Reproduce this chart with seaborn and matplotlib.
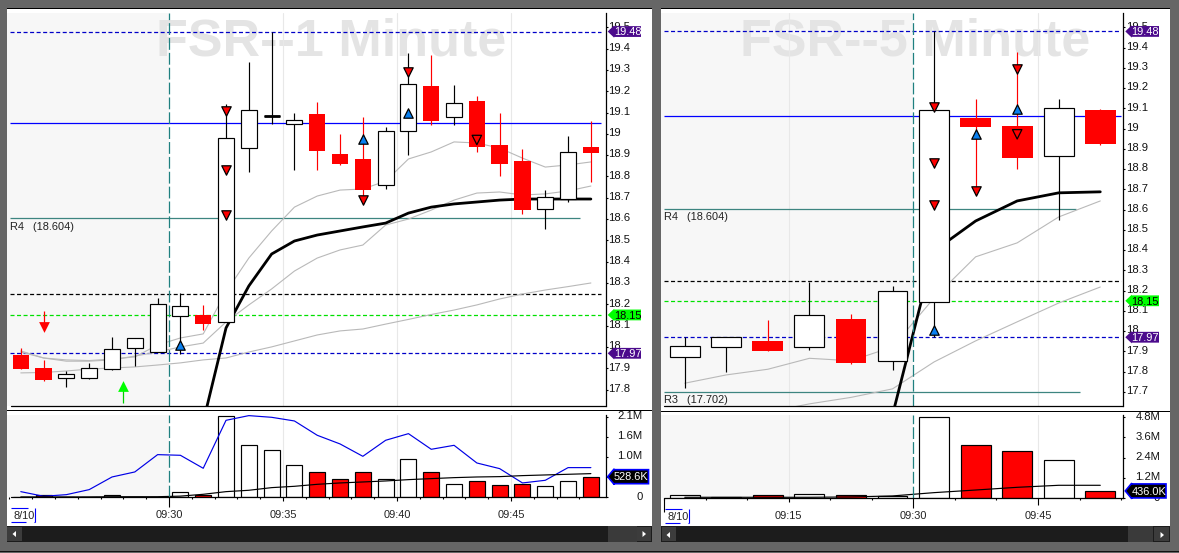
import numpy as np
import pandas as pd
import matplotlib
matplotlib.use("Agg")
import matplotlib.pyplot as plt
from matplotlib.patches import Polygon, Rectangle
from matplotlib.lines import Line2D
from matplotlib.transforms import ScaledTranslation
import seaborn as sns

# ---------- 1 minute chart ----------
m1_minutes = [-6.5, -5.5, -4.5, -3.5, -2.5, -1.5, -0.5, 0.5, 1.5, 2.5, 3.5, 4.5, 5.5, 6.5, 7.5, 8.5, 9.5,
              10.5, 11.5, 12.5, 13.5, 14.5, 15.5, 16.5, 17.5, 18.5]
m1_open = [17.962, 17.901, 17.855, 17.855, 17.898, 17.996, 17.978, 18.146, 18.15, 18.118, 18.932, 19.085, 19.047,
           19.093, 18.905, 18.882, 18.758, 19.012, 19.224, 19.08, 19.154, 18.947, 18.872, 18.649, 18.693, 18.938]
m1_close = [17.896, 17.845, 17.871, 17.9, 17.989, 18.04, 18.2, 18.19, 18.107, 18.979, 19.11, 19.085, 19.063,
            18.919, 18.858, 18.736, 19.012, 19.232, 19.062, 19.143, 18.94, 18.86, 18.644, 18.702, 18.913, 18.911]
m1_high = [17.993, 17.939, 17.887, 17.923, 18.045, 18.04, 18.228, 18.252, 18.197, 19.14, 19.337, 19.48, 19.096,
           19.149, 19.0, 19.079, 19.032, 19.379, 19.37, 19.229, 19.177, 19.096, 18.929, 18.736, 18.99, 19.058]
m1_low = [17.896, 17.84, 17.813, 17.851, 17.892, 17.91, 17.978, 17.967, 18.079, 18.118, 18.821, 19.047, 18.83,
          18.83, 18.853, 18.67, 18.741, 18.9, 19.041, 19.041, 18.916, 18.803, 18.625, 18.555, 18.681, 18.775]
m1_band_a = [17.981, 17.948, 17.939, 17.936, 17.943, 17.953, 18.009, 18.042, 18.061, 18.258, 18.417, 18.544, 18.656,
             18.708, 18.736, 18.741, 18.778, 18.882, 18.915, 18.962, 18.957, 18.933, 18.886, 18.844, 18.854, 18.868]
m1_band_b = [17.976, 17.948, 17.933, 17.933, 17.939, 17.957, 17.976, 18.0, 18.018, 18.117, 18.197, 18.272, 18.356,
             18.417, 18.455, 18.478, 18.572, 18.6, 18.642, 18.689, 18.722, 18.727, 18.713, 18.718, 18.732, 18.755]
m1_band_c = [17.878, 17.88, 17.887, 17.896, 17.901, 17.906, 17.915, 17.925, 17.939, 17.948, 17.976, 18.0, 18.028,
             18.056, 18.075, 18.084, 18.107, 18.129, 18.152, 18.173, 18.197, 18.225, 18.248, 18.267, 18.283, 18.3]
m1_ema_minutes = m1_minutes[8:]
m1_ema = [17.648, 18.089, 18.286, 18.436, 18.497, 18.525, 18.544, 18.563, 18.581, 18.628, 18.656, 18.671, 18.68,
          18.689, 18.694, 18.694, 18.694, 18.694]
m1_volume = [0.02, 0.05, 0.02, 0.01, 0.05, 0.02, 0.02, 0.146, 0.07, 2.09, 1.35, 1.22, 0.84, 0.66, 0.48, 0.66, 0.48,
             0.99, 0.66, 0.35, 0.43, 0.325, 0.35, 0.30, 0.43, 0.53]
m1_vol_fast = [0.145, 0.026, 0.068, 0.197, 0.521, 0.65, 1.094, 1.077, 0.744, 1.974, 2.094, 2.051, 1.957, 1.59, 1.368,
               1.051, 1.462, 1.632, 1.231, 1.333, 0.88, 0.735, 0.368, 0.436, 0.761, 0.761]
m1_vol_slow = [0.01, 0.01, 0.01, 0.01, 0.015, 0.015, 0.015, 0.03, 0.077, 0.145, 0.18, 0.248, 0.282, 0.333, 0.368,
               0.393, 0.419, 0.453, 0.479, 0.504, 0.521, 0.53, 0.556, 0.573, 0.59, 0.607]
m1_sell_x = [2.5, 2.5, 2.5, 8.5, 10.5]
m1_sell_y = [19.108, 18.83, 18.619, 18.689, 19.291]
m1_buy_x = [0.5, 8.5, 10.5]
m1_buy_y = [18.009, 18.976, 19.099]
m1_hollow_x = [13.5]
m1_hollow_y = [18.971]
m1_price_ticks = [17.8, 17.9, 18.0, 18.1, 18.2, 18.3, 18.4, 18.5, 18.6, 18.7, 18.8, 18.9, 19.0, 19.1, 19.2, 19.3, 19.4, 19.5]
m1_price_labels = ["17.8", "17.9", "18", "18.1", "18.2", "18.3", "18.4", "18.5", "18.6", "18.7", "18.8", "18.9", "19",
                   "19.1", "19.2", "19.3", "19.4", "19.5"]
m1_vol_ticks = [0, 0.517, 1.03, 1.55, 2.07]
m1_vol_labels = ["0", "", "1.0M", "1.6M", "2.1M"]
m1_time_ticks = [0, 5, 10, 15]
m1_time_labels = ["09:30", "09:35", "09:40", "09:45"]

# ---------- 5 minute chart ----------
m5_minutes = [-27.5, -22.5, -17.5, -12.5, -7.5, -2.5, 2.5, 7.5, 12.5, 17.5, 22.5]
m5_open = [17.874, 17.924, 17.952, 17.924, 18.06, 17.854, 18.146, 19.053, 19.013, 18.867, 19.092]
m5_close = [17.926, 17.97, 17.904, 18.079, 17.845, 18.197, 19.091, 19.008, 18.855, 19.101, 18.925]
m5_high = [17.97, 17.97, 18.055, 18.245, 18.085, 18.223, 19.48, 19.147, 19.377, 19.147, 19.097]
m5_low = [17.721, 17.8, 17.904, 17.909, 17.84, 17.808, 17.973, 18.673, 18.801, 18.549, 18.92]
m5_band_a = [17.743, 17.784, 17.812, 17.866, 17.854, 17.922, 18.164, 18.367, 18.436, 18.564, 18.643]
m5_band_b_minutes = m5_minutes[2:]
m5_band_b = [17.601, 17.641, 17.673, 17.715, 17.848, 17.952, 18.046, 18.139, 18.218]
m5_ema_minutes = m5_minutes[5:]
m5_ema = [17.586, 18.396, 18.544, 18.643, 18.683, 18.688]
m5_volume = [0.18, 0.1, 0.2, 0.24, 0.18, 0.12, 4.83, 3.14, 2.79, 2.25, 0.43]
m5_vol_slow = [0.06, 0.06, 0.06, 0.06, 0.08, 0.14, 0.335, 0.49, 0.65, 0.77, 0.77]
m5_sell_x = [2.5, 2.5, 2.5, 7.5, 12.5]
m5_sell_y = [19.109, 18.829, 18.623, 18.694, 19.295]
m5_buy_x = [2.5, 7.5, 12.5]
m5_buy_y = [18.006, 18.974, 19.099]
m5_hollow_x = [12.5]
m5_hollow_y = [18.972]
m5_price_ticks = [17.7, 17.8, 17.9, 18.0, 18.1, 18.2, 18.3, 18.4, 18.5, 18.6, 18.7, 18.8, 18.9, 19.0, 19.1, 19.2, 19.3, 19.4, 19.5]
m5_price_labels = ["17.7", "17.8", "17.9", "18", "18.1", "18.2", "18.3", "18.4", "18.5", "18.6", "18.7", "18.8", "18.9",
                   "19", "19.1", "19.2", "19.3", "19.4", "19.5"]
m5_vol_ticks = [0, 1.2, 2.4, 3.6, 4.8]
m5_vol_labels = ["0", "1.2M", "2.4M", "3.6M", "4.8M"]
m5_time_ticks = [-15, 0, 15]
m5_time_labels = ["09:15", "09:30", "09:45"]

W, H = 1179, 553
FONT = "Liberation Sans"
TXT = 7.9
DASH = (0, (2.9, 1.8))
sns.set_theme(style="white", rc={"font.family": FONT, "lines.scale_dashes": False})
fig = plt.figure(figsize=(W / 100, H / 100), dpi=100, facecolor="#666666")


def frect(x0, y0, x1, y1, color, z=-5):
    fig.add_artist(Rectangle((x0 / W, 1 - y1 / H), (x1 - x0) / W, (y1 - y0) / H, transform=fig.transFigure,
                             facecolor=color, edgecolor="none", zorder=z))


def fline(xs, ys, color, lw=0.8, z=6):
    fig.add_artist(Line2D([x / W for x in xs], [1 - y / H for y in ys], transform=fig.transFigure, color=color,
                          lw=lw, zorder=z, solid_capstyle="butt"))


def fpoly(points, color, z=6):
    fig.add_artist(Polygon([(x / W, 1 - y / H) for x, y in points], closed=True, transform=fig.transFigure,
                           facecolor=color, edgecolor="none", zorder=z))


def new_axes(x0, y0, x1, y1):
    ax = fig.add_axes([x0 / W, 1 - y1 / H, (x1 - x0) / W, (y1 - y0) / H], facecolor="none")
    for side in ["top", "left", "bottom"]:
        ax.spines[side].set_visible(False)
    ax.spines["right"].set_color("black")
    ax.spines["right"].set_linewidth(0.9)
    ax.plot([0.006, 1], [0, 0], transform=ax.transAxes, color="black", lw=0.9, clip_on=False, zorder=5)
    return ax


def base(ax, xlim, ylim, grid):
    ax.set_xlim(*xlim)
    ax.set_ylim(*ylim)
    ax.axvspan(xlim[0], 0, color="#f7f7f7", lw=0, zorder=0)
    for g in grid:
        ax.axvline(g, color="#e8e8e8", lw=0.8, zorder=0.5)
    ax.axvline(0, color="#1f8080", lw=0.9, ls=(0, (8.5, 2.2)), zorder=4)


def line(ax, x, y, color, lw, z=2.5):
    d = pd.DataFrame({"x": x, "y": y})
    sns.lineplot(data=d, x="x", y="y", ax=ax, color=color, lw=lw, sort=False, estimator=None, legend=False, zorder=z)
    ax.set_xlabel("")
    ax.set_ylabel("")


def candles(ax, x, o, c, hi, lo, width):
    x, o, c, hi, lo = map(np.array, (x, o, c, hi, lo))
    up = c >= o
    ax.vlines(x[up], lo[up], hi[up], color="black", lw=0.85, zorder=3)
    ax.vlines(x[~up], lo[~up], hi[~up], color="#ff0000", lw=0.85, zorder=3)
    ax.bar(x[up], (c - o)[up], bottom=o[up], width=width, facecolor="white", edgecolor="black", lw=0.85, zorder=3.2)
    ax.bar(x[~up], (c - o)[~up], bottom=o[~up], width=width * 1.03, facecolor="#ff0000", edgecolor="none", zorder=3.2)
    flat = np.isclose(o, c)
    ax.hlines(o[flat], x[flat] - width / 2, x[flat] + width / 2, color="black", lw=2.0, zorder=3.3)


def marks(ax, sx, sy, bx, by, hx, hy):
    kw = dict(ax=ax, s=46, edgecolor="black", linewidth=0.9, legend=False, zorder=4.5, clip_on=False)
    sns.scatterplot(x=sx, y=sy, marker="v", color="#ff0000", **kw)
    sns.scatterplot(x=bx, y=by, marker="^", color="#0a80f0", **kw)
    sns.scatterplot(x=hx, y=hy, marker="v", color="none", **kw)


def levels(ax, x0, x1):
    ax.hlines(19.48, x0, x1, color="#0000c8", lw=0.9, ls=DASH, zorder=2)
    ax.hlines(18.25, x0, x1, color="black", lw=0.9, ls=DASH, zorder=2)
    ax.hlines(18.15, x0, x1, color="#00e000", lw=0.9, ls=DASH, zorder=2)
    ax.hlines(17.97, x0, x1, color="#0000c8", lw=0.9, ls=DASH, zorder=2)


def pivot(ax, text, value, x0, x1):
    ax.hlines(value, x0, x1, color="#3d8580", lw=0.9, zorder=2)
    ax.annotate(text, xy=(x0, value), xytext=(0, -2.6), textcoords="offset points", ha="left", va="top",
                fontsize=TXT, color="#222222", zorder=6)


def right_ticks(ax, ticks, labels, flush=False):
    ax.yaxis.tick_right()
    ax.set_yticks(ticks, labels)
    ax.tick_params(axis="y", which="major", length=1.6, width=0.8, pad=25.0 if flush else 0.2, labelsize=TXT + 0.2,
                   labelcolor="#111111", color="black", right=True, left=False)
    shift = ScaledTranslation(0, 1.2 / 72, fig.dpi_scale_trans)
    for t in ax.get_yticklabels():
        t.set_transform(t.get_transform() + shift)
        if flush:
            t.set_horizontalalignment("right")


def bottom_ticks(ax, ticks, labels, minor, long_ticks):
    ax.set_xticks(ticks, labels)
    ax.set_xticks(minor, minor=True)
    ax.tick_params(axis="x", which="major", length=2.6, width=0.8, pad=6.6, labelsize=TXT, labelcolor="#222222",
                   color="black", bottom=True)
    ax.tick_params(axis="x", which="minor", length=1.6, width=0.8, color="black", bottom=True)
    for t, v in zip(ax.xaxis.get_major_ticks(), ticks):
        if v in long_ticks:
            t.tick1line.set_markersize(long_ticks[v])


def volume(ax, x, v, up, width):
    x, v, up = map(np.array, (x, v, up))
    ax.bar(x[up], v[up], width=width, facecolor="white", edgecolor="black", lw=0.85, zorder=2)
    ax.bar(x[~up], v[~up], width=width, facecolor="#ff0000", edgecolor="black", lw=0.85, zorder=2)


def watermark(ax, text, x):
    ax.text(x, 0.925, text, transform=ax.get_xaxis_transform(), ha="center", va="center", fontsize=37.5,
            fontweight="bold", color="#e4e4e4", zorder=0.3)


def tag(ax, value, text, fc, tc, x1, h=5.4, ec=None, size=TXT):
    px, py = ax.transData.transform((ax.get_xlim()[1], value))
    py = H - py
    x0 = px + 2
    pts = [(x0, py), (x0 + 6.5, py - h - 0.8), (x0 + 6.5, py - h), (x1, py - h), (x1, py + h), (x0 + 6.5, py + h),
           (x0 + 6.5, py + h + 0.8)]
    if ec:
        fig.add_artist(Polygon([(x / W, 1 - y / H) for x, y in pts], closed=True, transform=fig.transFigure,
                               facecolor=fc, edgecolor=ec, lw=1.2, zorder=7))
    else:
        fpoly(pts, fc, z=7)
    fig.text((x0 + 6.3) / W, 1 - (py + 0.8) / H, text, color=tc, fontsize=size, ha="left", va="center", zorder=8)


# window chrome
frect(7, 9, 652, 526, "white")
frect(661, 9, 1170, 526, "white")
frect(7, 8, 652, 9, "black", z=-4)
frect(661, 8, 1170, 9, "black", z=-4)
frect(7, 526, 652, 542, "#1c1c1c", z=-4)
frect(661, 526, 1170, 542, "#1c1c1c", z=-4)
frect(7, 527, 22, 541, "#3c3c3c", z=-3)
frect(608, 526, 637, 542, "#3a3a3a", z=-3)
frect(637, 527, 651, 541, "#3c3c3c", z=-3)
frect(662, 527, 676, 541, "#3c3c3c", z=-3)
frect(1128, 526, 1153, 542, "#3a3a3a", z=-3)
frect(1154, 527, 1169, 541, "#3c3c3c", z=-3)
frect(0, 551, W, 552, "#111111", z=-4)
for pts in ([(12.5, 534), (16, 531), (16, 537)], [(646, 534), (642.5, 531), (642.5, 537)],
            [(666.5, 535), (670, 532), (670, 538)], [(1164, 535), (1160.5, 532), (1160.5, 538)]):
    fpoly(pts, "white")
frect(7, 410, 652, 411, "black", z=7)
frect(661, 411, 1170, 412, "black", z=7)

# ---------- left panes ----------
lim1 = (-7.105, 19.15)
ax1 = new_axes(7, 13, 605.7, 405.5)
base(ax1, lim1, (17.725, 19.567), [5, 10, 15])
watermark(ax1, "FSR--1 Minute", 7.1)
levels(ax1, -6.97, 18.96)
ax1.hlines(19.05, -6.97, 18.96, color="#0000ff", lw=0.9, zorder=2)
pivot(ax1, "R4   (18.604)", 18.604, -6.97, 18.03)
for s in (m1_band_a, m1_band_b, m1_band_c):
    line(ax1, m1_minutes, s, "#b9b9b9", 0.8)
line(ax1, m1_ema_minutes, m1_ema, "black", 2.0, z=2.8)
candles(ax1, m1_minutes, m1_open, m1_close, m1_high, m1_low, 0.7)
marks(ax1, m1_sell_x, m1_sell_y, m1_buy_x, m1_buy_y, m1_hollow_x, m1_hollow_y)
ax1.vlines(-5.5, 18.10, 18.168, color="#ff0000", lw=0.9, zorder=4)
sns.scatterplot(x=[-5.5], y=[18.092], marker="v", color="#ff0000", s=60, linewidth=0, ax=ax1, legend=False, zorder=4)
ax1.vlines(-2.0, 17.738, 17.81, color="#00d000", lw=0.9, zorder=4)
sns.scatterplot(x=[-2.0], y=[17.818], marker="^", color="#00ff00", s=60, linewidth=0, ax=ax1, legend=False, zorder=4)
right_ticks(ax1, m1_price_ticks, m1_price_labels)
ax1.set_xticks([])

v1 = new_axes(7, 415, 605.7, 497.3)
base(v1, lim1, (0, 2.11), [5, 10, 15])
volume(v1, m1_minutes, m1_volume, np.array(m1_close) >= np.array(m1_open), 0.7)
line(v1, m1_minutes, m1_vol_fast, "#0000e6", 0.85, z=3)
line(v1, m1_minutes, m1_vol_slow, "black", 0.85, z=3)
right_ticks(v1, m1_vol_ticks, m1_vol_labels, flush=True)
bottom_ticks(v1, m1_time_ticks, m1_time_labels, np.arange(-7, 19), {0: 7.5})

# ---------- right panes ----------
lim5 = (-30.36, 25.27)
ax5 = new_axes(661, 13, 1123.3, 406.3)
base(ax5, lim5, (17.629, 19.571), [-15, 15])
watermark(ax5, "FSR--5 Minute", 0.2)
levels(ax5, -30.0, 25.0)
ax5.hlines(19.06, -30.0, 25.0, color="#0000ff", lw=0.9, zorder=2)
pivot(ax5, "R4   (18.604)", 18.604, -30.0, 19.6)
pivot(ax5, "R3   (17.702)", 17.702, -30.0, 20.0)
line(ax5, m5_minutes, m5_band_a, "#b9b9b9", 0.8)
line(ax5, m5_band_b_minutes, m5_band_b, "#b9b9b9", 0.8)
line(ax5, m5_ema_minutes, m5_ema, "black", 2.0, z=2.8)
candles(ax5, m5_minutes, m5_open, m5_close, m5_high, m5_low, 3.6)
marks(ax5, m5_sell_x, m5_sell_y, m5_buy_x, m5_buy_y, m5_hollow_x, m5_hollow_y)
right_ticks(ax5, m5_price_ticks, m5_price_labels)
ax5.set_xticks([])

v5 = new_axes(661, 415, 1123.3, 498.3)
base(v5, lim5, (0, 4.93), [-15, 15])
volume(v5, m5_minutes, m5_volume, np.array(m5_close) >= np.array(m5_open), 3.6)
line(v5, m5_minutes, m5_vol_slow, "black", 0.85, z=3)
right_ticks(v5, m5_vol_ticks, m5_vol_labels, flush=True)
bottom_ticks(v5, m5_time_ticks, m5_time_labels, np.arange(-30, 26, 5), {0: 7.5, 15: 5.0})

# ---------- value tags ----------
PURPLE = "#4b0a8c"
tag(ax1, 19.48, "19.48", PURPLE, "white", 641)
tag(ax1, 18.15, "18.15", "#00ff00", "black", 641)
tag(ax1, 17.97, "17.97", PURPLE, "white", 641)
tag(v1, 0.5286, "528.6K", "black", "white", 648.5, h=7.0, ec="#0000ff")
tag(ax5, 19.48, "19.48", PURPLE, "white", 1159)
tag(ax5, 18.15, "18.15", "#00ff00", "black", 1159)
tag(ax5, 17.97, "17.97", PURPLE, "white", 1159)
tag(v5, 0.436, "436.0K", "black", "white", 1166, h=7.0, ec="#0000ff")

# ---------- date boxes ----------
for x0, x1, y0, y1 in ((11, 35, 507.5, 521.5), (665, 689, 508.5, 522.5)):
    fline([x0, x1 - 7], [y0, y0], "#0000ff")
    fline([x0, x1 - 9], [y1, y1], "#0000ff")
    fline([x1, x1], [y0, y1], "#0000ff")
    fline([x1 - 1.5, x1], [y1, y1], "#0000ff")
    fig.text((x0 + 2) / W, 1 - ((y0 + y1) / 2 + 1.2) / H, "8/10", fontsize=TXT, color="#222222", ha="left", va="center",
             zorder=8)
fline([664.3, 664.3], [498, 512], "black")

fig.savefig("out.png", dpi=100, facecolor=fig.get_facecolor())
